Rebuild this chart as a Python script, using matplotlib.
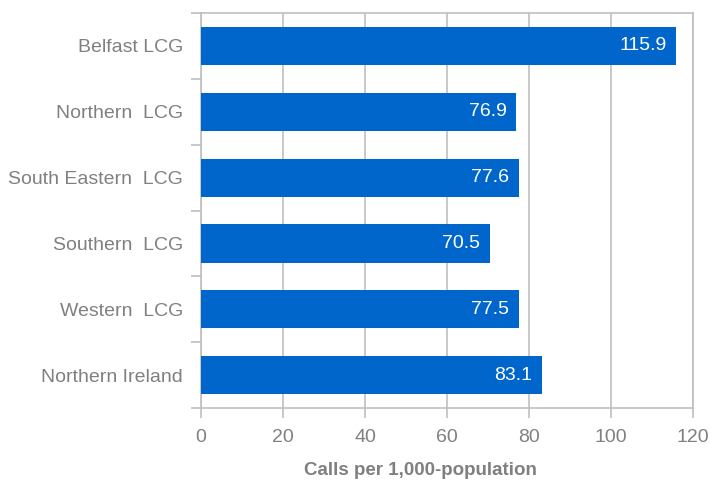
import matplotlib.pyplot as plt
import numpy as np

# calls per 1,000 population by LCG
areas = ["Belfast LCG", "Northern  LCG", "South Eastern  LCG", "Southern  LCG",
         "Western  LCG", "Northern Ireland"]
rates = [115.9, 76.9, 77.6, 70.5, 77.5, 83.1]

BAR_COLOR = "#0066CC"
TEXT_GRAY = "#808080"
LINE_GRAY = "#BFBFBF"

plt.rcParams["font.family"] = ["Liberation Sans", "DejaVu Sans"]

fig = plt.figure(figsize=(7.11, 4.82), dpi=100)
ax = fig.add_axes([0.2827, 0.1535, 0.692, 0.8195])

y = np.arange(len(areas))
ax.barh(y, rates, height=0.58, color=BAR_COLOR, zorder=3)

for yi, v in zip(y, rates):
    ax.text(v - 2.4, yi, f"{v:.1f}", color="white", fontsize=14,
            ha="right", va="center", zorder=4)

ax.set_xlim(0, 120)
ax.set_ylim(len(areas) - 0.5, -0.5)
ax.set_xticks(np.arange(0, 121, 20))
ax.set_yticks(y)
ax.set_yticklabels(areas)
ax.set_yticks(np.arange(-0.5, len(areas)), minor=True)

ax.xaxis.grid(True, color=LINE_GRAY, linewidth=1.2, zorder=0)
ax.tick_params(axis="x", which="major", length=7, width=1.2, color=LINE_GRAY,
               labelcolor=TEXT_GRAY, labelsize=14, pad=8)
ax.tick_params(axis="y", which="major", length=0, labelcolor=TEXT_GRAY,
               labelsize=14, pad=13)
ax.tick_params(axis="y", which="minor", length=7, width=1.2, color=LINE_GRAY)

for spine in ax.spines.values():
    spine.set_color(LINE_GRAY)
    spine.set_linewidth(1.2)

ax.set_xlabel("Calls per 1,000-population", color=TEXT_GRAY, fontsize=13.5,
              fontweight="bold")
ax.xaxis.label.set_va("center")
ax.xaxis.set_label_coords(0.445, -0.157)

fig.savefig("out.png", dpi=100)
